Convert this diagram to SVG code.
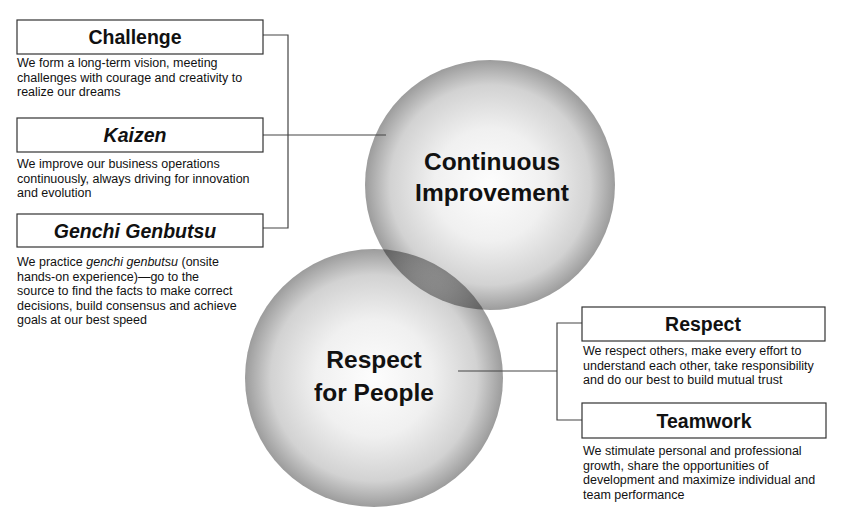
<svg xmlns="http://www.w3.org/2000/svg" width="850" height="525" viewBox="0 0 850 525">
<defs>
<radialGradient id="sphere" cx="0.5" cy="0.5" r="0.5">
<stop offset="0" stop-color="#fdfdfd"/>
<stop offset="0.45" stop-color="#f0f0f0"/>
<stop offset="0.8" stop-color="#d2d2d2"/>
<stop offset="1" stop-color="#9c9c9c"/>
</radialGradient>
</defs>
<style>
.box{fill:#fff;stroke:#333;stroke-width:1.2}
.title{font-family:"Liberation Sans",Arial,sans-serif;font-weight:bold;font-size:19.5px;fill:#111;text-anchor:middle}
.desc{font-family:"Liberation Sans",Arial,sans-serif;font-size:12.5px;fill:#111}
.big{font-family:"Liberation Sans",Arial,sans-serif;font-weight:bold;font-size:24.5px;fill:#111;text-anchor:middle}
.conn{fill:none;stroke:#444;stroke-width:1.2}
.blend{mix-blend-mode:multiply}
</style>
<rect width="850" height="525" fill="#fff"/>
<g id="spheres" style="isolation:isolate">
<circle id="circle-improvement" cx="490" cy="185" r="125" fill="url(#sphere)"/>
<circle id="circle-respect" class="blend" cx="374" cy="378" r="129" fill="url(#sphere)"/>
</g>
<g id="connectors">
<path class="conn" d="M263,35 H288 V228 H263"/>
<path class="conn" d="M263,135 H386"/>
<path class="conn" d="M582,323 H557 V420 H582"/>
<path class="conn" d="M458,371 H557"/>
</g>
<g id="node-continuous-improvement">
<text class="big" x="492" y="170">Continuous</text>
<text class="big" x="492" y="201">Improvement</text>
</g>
<g id="node-respect-for-people">
<text class="big" x="374" y="368">Respect</text>
<text class="big" x="374" y="401">for People</text>
</g>
<g id="node-challenge">
<rect class="box" x="17" y="20" width="246" height="34"/>
<text class="title" x="135" y="44">Challenge</text>
<text class="desc" x="17" y="67">We form a long-term vision, meeting</text>
<text class="desc" x="17" y="81.5">challenges with courage and creativity to</text>
<text class="desc" x="17" y="96">realize our dreams</text>
</g>
<g id="node-kaizen">
<rect class="box" x="17" y="118" width="246" height="34"/>
<text class="title" x="135" y="142" font-style="italic">Kaizen</text>
<text class="desc" x="17" y="168">We improve our business operations</text>
<text class="desc" x="17" y="182.5">continuously, always driving for innovation</text>
<text class="desc" x="17" y="197">and evolution</text>
</g>
<g id="node-genchi-genbutsu">
<rect class="box" x="17" y="214" width="246" height="33"/>
<text class="title" x="135" y="238" font-style="italic">Genchi Genbutsu</text>
<text class="desc" x="17" y="266">We practice <tspan font-style="italic">genchi genbutsu</tspan> (onsite</text>
<text class="desc" x="17" y="280.5">hands-on experience)—go to the</text>
<text class="desc" x="17" y="295">source to find the facts to make correct</text>
<text class="desc" x="17" y="309.5">decisions, build consensus and achieve</text>
<text class="desc" x="17" y="324">goals at our best speed</text>
</g>
<g id="node-respect">
<rect class="box" x="582" y="307" width="243" height="34"/>
<text class="title" x="703" y="331">Respect</text>
<text class="desc" x="583" y="355">We respect others, make every effort to</text>
<text class="desc" x="583" y="369.5">understand each other, take responsibility</text>
<text class="desc" x="583" y="384">and do our best to build mutual trust</text>
</g>
<g id="node-teamwork">
<rect class="box" x="582" y="403" width="244" height="35"/>
<text class="title" x="704" y="428">Teamwork</text>
<text class="desc" x="583" y="455">We stimulate personal and professional</text>
<text class="desc" x="583" y="469.5">growth, share the opportunities of</text>
<text class="desc" x="583" y="484">development and maximize individual and</text>
<text class="desc" x="583" y="498.5">team performance</text>
</g>
</svg>
